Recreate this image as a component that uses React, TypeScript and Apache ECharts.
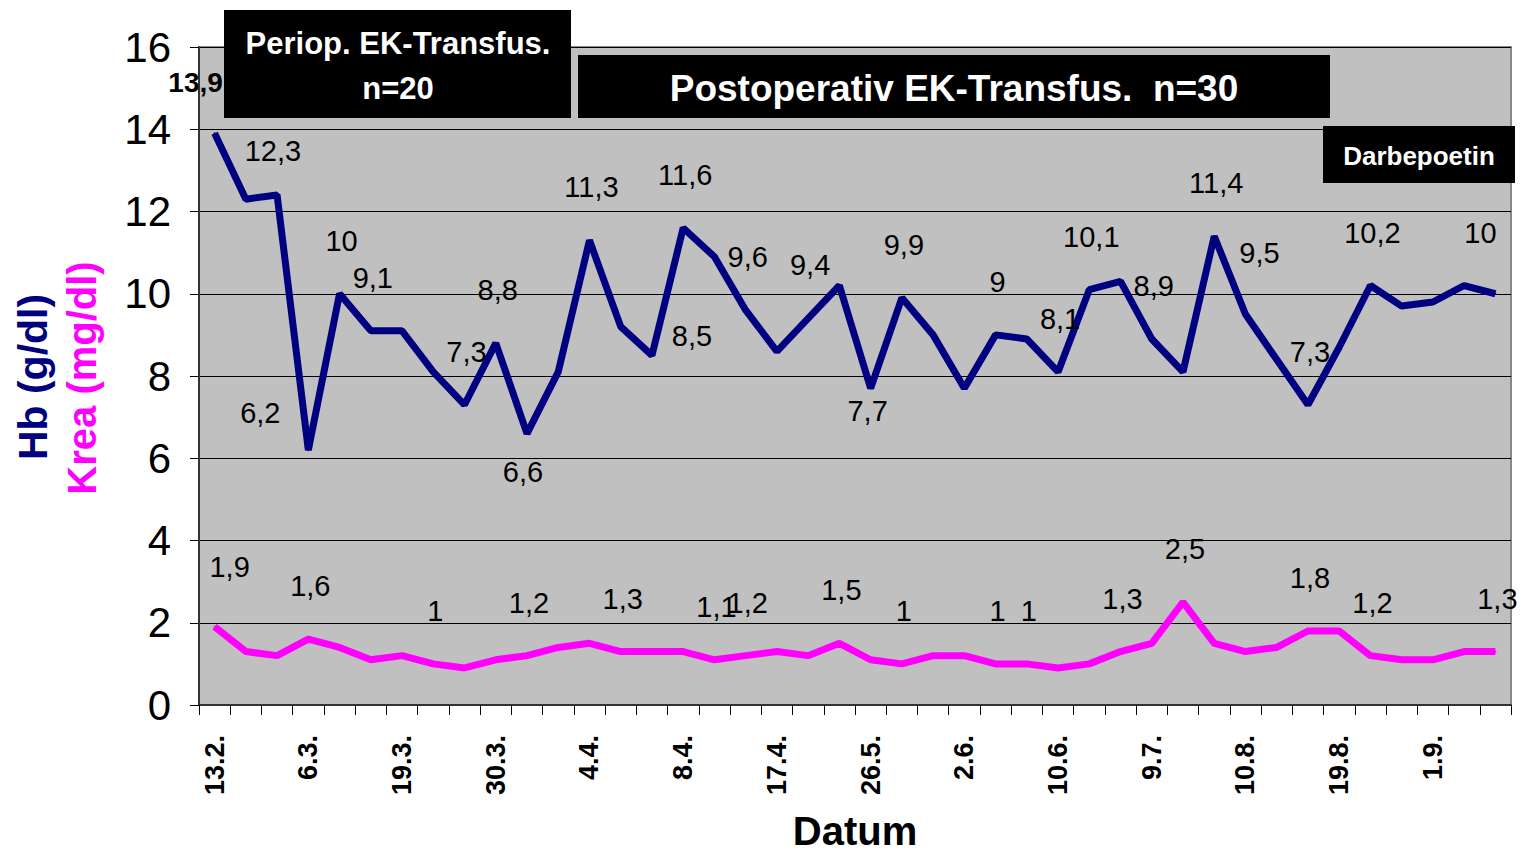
import React, { useEffect, useRef } from "react";
import * as echarts from "echarts";

const categories = [
  "13.2.", "", "", "6.3.", "", "", "19.3.", "", "", "30.3.", "", "", "4.4.", "", "",
  "8.4.", "", "", "17.4.", "", "", "26.5.", "", "", "2.6.", "", "", "10.6.", "", "",
  "9.7.", "", "", "10.8.", "", "", "19.8.", "", "", "1.9.", "", "",
];

const hbValues = [
  13.9, 12.3, 12.4, 6.2, 10, 9.1, 9.1, 8.1, 7.3, 8.8, 6.6, 8.1, 11.3, 9.2, 8.5, 11.6,
  10.9, 9.6, 8.6, 9.4, 10.2, 7.7, 9.9, 9.0, 7.7, 9.0, 8.9, 8.1, 10.1, 10.3, 8.9, 8.1,
  11.4, 9.5, 8.4, 7.3, 8.7, 10.2, 9.7, 9.8, 10.2, 10.0,
];

const kreaValues = [
  1.9, 1.3, 1.2, 1.6, 1.4, 1.1, 1.2, 1.0, 0.9, 1.1, 1.2, 1.4, 1.5, 1.3, 1.3, 1.3, 1.1,
  1.2, 1.3, 1.2, 1.5, 1.1, 1.0, 1.2, 1.2, 1.0, 1.0, 0.9, 1.0, 1.3, 1.5, 2.5, 1.5, 1.3,
  1.4, 1.8, 1.8, 1.2, 1.1, 1.1, 1.3, 1.3,
];

const hbLabeled = [0, 1, 3, 4, 5, 8, 9, 10, 12, 14, 15, 17, 19, 21, 22, 25, 27, 28, 30, 32, 33, 35, 37, 41];
const kreaLabeled = [0, 3, 7, 10, 13, 16, 17, 20, 22, 25, 26, 29, 31, 35, 37, 41];

const yTicks = { min: 0, max: 16, interval: 2 };

const boxTexts = ["Periop. EK-Transfus.\nn=20", "Postoperativ EK-Transfus.  n=30", "Darbepoetin"];

// label placement tweaks (offset of label centre from the point)
const DEFAULT_OFFSET = [2, -53];
const hbOffsets: Record<number, number[]> = {
  0: [-19, -51], 1: [27, -48], 3: [-48, -37], 10: [-4, 38], 14: [40, -19],
  21: [-3, 23], 33: [14, -61], 41: [-15, -61],
};
const kreaOffsets: Record<number, number[]> = { 0: [15, -60] };

const FONT = "'Liberation Sans', Arial, Helvetica, sans-serif";
const fmt = (v: number) => String(v).replace(".", ",");

function buildData(values: number[], labeled: number[], offsets: Record<number, number[]>, boldFirst: boolean) {
  return values.map((v, i) => {
    if (!labeled.includes(i)) return { value: v };
    const lab: any = {
      show: true,
      position: "inside",
      offset: offsets[i] || DEFAULT_OFFSET,
      formatter: fmt(v),
      color: "#000",
      fontFamily: FONT,
      fontSize: 29,
    };
    if (boldFirst && i === 0) {
      lab.fontWeight = "bold";
      lab.fontSize = 28;
    }
    return { value: v, label: lab };
  });
}

export default function App() {
  const ref = useRef<HTMLDivElement>(null);
  useEffect(() => {
    if (!ref.current) return;
    const chart = echarts.init(ref.current, undefined, { renderer: "svg" });
    const option: any = {
      animation: false,
      backgroundColor: "#ffffff",
      grid: {
        left: 199,
        top: 47,
        width: 1312,
        height: 658,
        containLabel: false,
        outerBoundsMode: "none",
        show: true,
        backgroundColor: "#C0C0C0",
        borderColor: "#888888",
        borderWidth: 2,
      },
      xAxis: {
        type: "category",
        data: categories,
        boundaryGap: true,
        name: "Datum",
        nameLocation: "middle",
        nameGap: 106,
        nameTextStyle: { fontFamily: FONT, fontSize: 40, fontWeight: "bold", color: "#000" },
        axisLine: { show: true, lineStyle: { color: "#333", width: 2 } },
        axisTick: { show: true, interval: 0, length: 10, lineStyle: { color: "#000", width: 1 } },
        axisLabel: {
          interval: 2,
          rotate: 90,
          margin: 30,
          fontFamily: FONT,
          fontSize: 27,
          fontWeight: "bold",
          color: "#000",
        },
        splitLine: { show: false },
      },
      yAxis: {
        type: "value",
        min: yTicks.min,
        max: yTicks.max,
        interval: yTicks.interval,
        axisLine: { show: true, lineStyle: { color: "#333", width: 2 } },
        axisTick: { show: true, length: 9, lineStyle: { color: "#000" } },
        axisLabel: { margin: 28, fontFamily: FONT, fontSize: 42, color: "#000" },
        splitLine: { show: true, lineStyle: { color: "#000", width: 1 } },
      },
      series: [
        {
          name: "Krea",
          type: "line",
          data: buildData(kreaValues, kreaLabeled, kreaOffsets, false),
          showSymbol: true,
          symbol: "circle",
          symbolSize: 2,
          itemStyle: { color: "#FF00FF" },
          lineStyle: { color: "#FF00FF", width: 7 },
          label: { show: false },
          z: 3,
        },
        {
          name: "Hb",
          type: "line",
          data: buildData(hbValues, hbLabeled, hbOffsets, true),
          showSymbol: true,
          symbol: "circle",
          symbolSize: 2,
          itemStyle: { color: "#000080" },
          lineStyle: { color: "#000080", width: 7 },
          label: { show: false },
          z: 4,
        },
      ],
      graphic: [
        {
          type: "text",
          x: 33,
          y: 377,
          rotation: Math.PI / 2,
          style: {
            text: "Hb (g/dl)",
            fill: "#000080",
            fontFamily: FONT,
            fontSize: 41,
            fontWeight: "bold",
            align: "center",
            verticalAlign: "middle",
          },
        },
        {
          type: "text",
          x: 82,
          y: 378,
          rotation: Math.PI / 2,
          style: {
            text: "Krea (mg/dl)",
            fill: "#FF00FF",
            fontFamily: FONT,
            fontSize: 40,
            fontWeight: "bold",
            align: "center",
            verticalAlign: "middle",
          },
        },
        {
          type: "rect",
          shape: { x: 224, y: 10, width: 347, height: 108 },
          style: { fill: "#000" },
          z: 100,
        },
        {
          type: "text",
          x: 398,
          y: 66,
          z: 101,
          style: {
            text: boxTexts[0],
            fill: "#fff",
            fontFamily: FONT,
            fontSize: 31,
            fontWeight: "bold",
            lineHeight: 45,
            align: "center",
            verticalAlign: "middle",
          },
        },
        {
          type: "rect",
          shape: { x: 578, y: 55, width: 752, height: 63 },
          style: { fill: "#000" },
          z: 100,
        },
        {
          type: "text",
          x: 954,
          y: 88,
          z: 101,
          style: {
            text: boxTexts[1],
            fill: "#fff",
            fontFamily: FONT,
            fontSize: 37,
            fontWeight: "bold",
            align: "center",
            verticalAlign: "middle",
          },
        },
        {
          type: "rect",
          shape: { x: 1323, y: 126, width: 192, height: 57 },
          style: { fill: "#000" },
          z: 100,
        },
        {
          type: "text",
          x: 1419,
          y: 156,
          z: 101,
          style: {
            text: boxTexts[2],
            fill: "#fff",
            fontFamily: FONT,
            fontSize: 26,
            fontWeight: "bold",
            align: "center",
            verticalAlign: "middle",
          },
        },
      ],
    };
    chart.setOption(option);
    return () => chart.dispose();
  }, []);
  return (
    <div
      ref={ref}
      style={{ position: "fixed", left: 0, top: 0, width: 1527, height: 852 }}
    />
  );
}
